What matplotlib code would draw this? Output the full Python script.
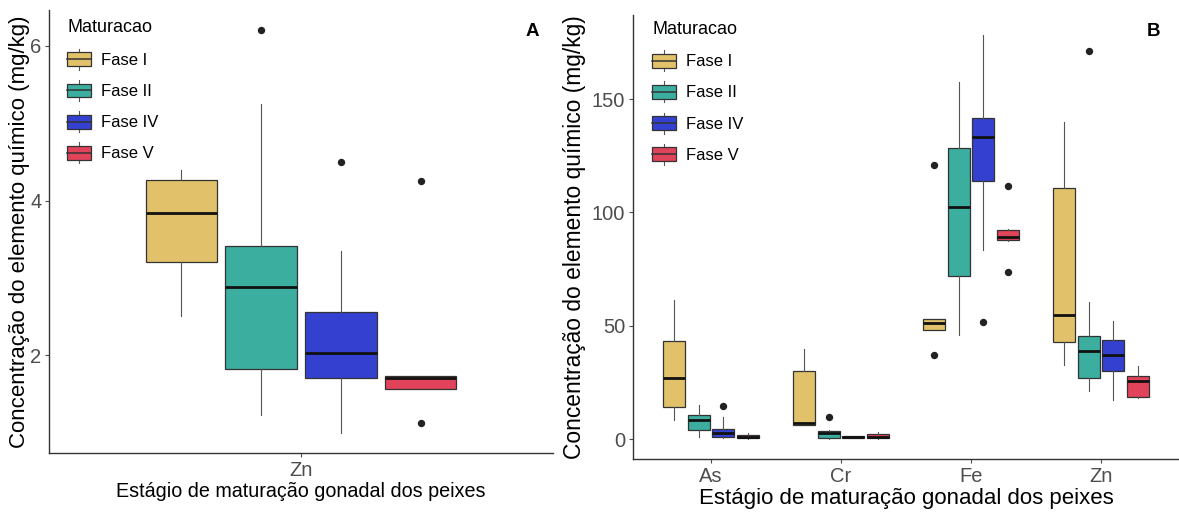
import matplotlib
matplotlib.use("Agg")
import matplotlib.pyplot as plt
import numpy as np
from matplotlib.patches import Patch, Rectangle
from matplotlib.lines import Line2D
from matplotlib.legend_handler import HandlerBase

plt.rcParams['font.family'] = ['Liberation Sans', 'DejaVu Sans']

fases = ["Fase I", "Fase II", "Fase IV", "Fase V"]
cores = ["#E1C16A", "#3BAE9F", "#3441D0", "#E1435A"]

# painel A: Zn, uma caixa por fase
zn_min = [2.51, 1.23, 1.00, 1.57]
zn_q1 = [3.20, 1.82, 1.71, 1.57]
zn_med = [3.84, 2.88, 2.03, 1.71]
zn_q3 = [4.26, 3.41, 2.56, 1.74]
zn_max = [4.40, 5.24, 3.35, 1.74]
zn_out = [[], [6.20], [4.50], [4.25, 1.13]]

# painel B: elementos x fase
elementos = ["As", "Cr", "Fe", "Zn"]
el_min = {
    "Fase I": [8.2, 6.3, 47.9, 32.8],
    "Fase II": [1.1, 0.2, 45.7, 21.3],
    "Fase IV": [0.5, 0.3, 83.5, 17.2],
    "Fase V": [0.2, 0.1, 87.5, 18.1],
}
el_q1 = {
    "Fase I": [14.3, 6.3, 47.9, 42.9],
    "Fase II": [4.0, 0.5, 72.1, 26.8],
    "Fase IV": [0.8, 0.5, 113.8, 29.9],
    "Fase V": [0.5, 0.5, 87.8, 18.4],
}
el_med = {
    "Fase I": [26.8, 7.0, 51.1, 54.7],
    "Fase II": [8.2, 2.7, 102.4, 38.7],
    "Fase IV": [2.7, 0.9, 133.2, 37.2],
    "Fase V": [1.0, 1.1, 89.3, 25.7],
}
el_q3 = {
    "Fase I": [43.1, 29.9, 53.0, 110.6],
    "Fase II": [10.4, 3.7, 128.2, 45.3],
    "Fase IV": [4.5, 1.3, 141.5, 43.8],
    "Fase V": [2.0, 2.3, 92.2, 27.9],
}
el_max = {
    "Fase I": [61.5, 39.7, 53.0, 140.1],
    "Fase II": [15.1, 4.2, 157.6, 60.3],
    "Fase IV": [9.6, 1.5, 178.2, 52.2],
    "Fase V": [2.6, 3.0, 92.5, 32.4],
}
el_out = {
    "Fase I": [[], [], [121.0, 37.1], []],
    "Fase II": [[], [9.6], [], [171.0]],
    "Fase IV": [[14.8], [], [51.8], []],
    "Fase V": [[], [], [111.5, 73.9], []],
}

LARG = 0.17
PASSO = 0.19
TICK_COR = "#4D4D4D"


class BoxKey(HandlerBase):
    # chave da legenda no estilo do ggplot: caixa, mediana e bigodes
    def create_artists(self, legend, orig_handle, xdescent, ydescent,
                       width, height, fontsize, trans):
        bh = height * 0.66
        y0 = -ydescent + (height - bh) / 2
        x0 = -xdescent
        cx = x0 + width / 2
        rect = Rectangle((x0, y0), width, bh, facecolor=orig_handle.get_facecolor(),
                         edgecolor="#333333", lw=0.9, transform=trans)
        mid = y0 + bh / 2
        med = Line2D([x0, x0 + width], [mid, mid], color="#333333", lw=1.1, transform=trans)
        w1 = Line2D([cx, cx], [-ydescent, y0], color="#555555", lw=0.8, transform=trans)
        w2 = Line2D([cx, cx], [y0 + bh, -ydescent + height], color="#555555", lw=0.8, transform=trans)
        return [w1, w2, rect, med]


def caixas(ax, pos, mins, q1s, meds, q3s, maxs, outs, cor):
    stats = []
    for i in range(len(pos)):
        stats.append({"whislo": mins[i], "q1": q1s[i], "med": meds[i],
                      "q3": q3s[i], "whishi": maxs[i], "fliers": outs[i]})
    ax.bxp(stats, positions=pos, widths=LARG, patch_artist=True, showcaps=False,
           boxprops=dict(facecolor=cor, edgecolor="#333333", linewidth=0.9),
           medianprops=dict(color="#111111", linewidth=2.0, solid_capstyle="butt"),
           whiskerprops=dict(color="#555555", linewidth=0.8),
           flierprops=dict(marker="o", markersize=4.3, markerfacecolor="#222222",
                           markeredgecolor="#222222"),
           manage_ticks=False)


def estilo(ax, ncat, valores, tam_titulo, tam_y, lab_x, lab_y):
    lo, hi = min(valores), max(valores)
    pad = (hi - lo) * 0.05
    ax.set_ylim(lo - pad, hi + pad)
    ax.set_xlim(0.4, ncat + 0.6)
    for s in ["top", "right"]:
        ax.spines[s].set_visible(False)
    for s in ["left", "bottom"]:
        ax.spines[s].set_color("#333333")
        ax.spines[s].set_linewidth(1.0)
    ax.tick_params(axis="both", colors=TICK_COR, labelsize=14.5, length=3, width=0.8, pad=2.5)
    ax.set_xlabel("Estágio de maturação gonadal dos peixes", fontsize=tam_titulo)
    ax.set_ylabel("Concentração do elemento químico (mg/kg)", fontsize=tam_y)
    ax.xaxis.set_label_coords(0.5, lab_x)
    ax.yaxis.set_label_coords(lab_y, 0.5)


def legenda(ax, x, y):
    handles = [Patch(facecolor=c) for c in cores]
    leg = ax.legend(handles, fases, handler_map={Patch: BoxKey()}, title="Maturacao",
                    loc="upper left", bbox_to_anchor=(x, y), frameon=False,
                    borderpad=0, borderaxespad=0, handlelength=1.45, handleheight=1.55,
                    labelspacing=0.62, handletextpad=0.6, alignment="left",
                    prop={"size": 12})
    leg.get_title().set_fontsize(13)
    leg._legend_box.sep = 9


fig = plt.figure(figsize=(11.79, 5.13), dpi=100)
ax1 = fig.add_axes([49 / 1179, 60 / 513, 504 / 1179, 443 / 513])
ax2 = fig.add_axes([633 / 1179, 54 / 513, 546 / 1179, 444 / 513])

# painel A
for k, f in enumerate(fases):
    p = [1 + (k - 1.5) * PASSO]
    caixas(ax1, p, [zn_min[k]], [zn_q1[k]], [zn_med[k]], [zn_q3[k]], [zn_max[k]],
           [zn_out[k]], cores[k])
todos_a = zn_min + zn_max + [v for o in zn_out for v in o]
estilo(ax1, 1, todos_a, 14.2, 16.0, -0.065, -0.038)
ax1.set_xticks([1])
ax1.set_xticklabels(["Zn"])
ax1.set_yticks([2, 4, 6])
legenda(ax1, 0.036, 0.979)

# painel B
x = np.arange(1, len(elementos) + 1)
todos_b = []
for k, f in enumerate(fases):
    p = x + (k - 1.5) * PASSO
    caixas(ax2, p, el_min[f], el_q1[f], el_med[f], el_q3[f], el_max[f], el_out[f], cores[k])
    todos_b += el_min[f] + el_max[f] + [v for o in el_out[f] for v in o]
estilo(ax2, len(elementos), todos_b, 16.0, 16.4, -0.065, -0.086)
ax2.set_xticks(x)
ax2.set_xticklabels(elementos)
ax2.set_yticks([0, 50, 100, 150])
legenda(ax2, 0.035, 0.987)

fig.text(532 / 1179, 1 - 32 / 513, "A", fontsize=13.5, fontweight="bold",
         ha="center", va="center")
fig.text(1153 / 1179, 1 - 32 / 513, "B", fontsize=13.5, fontweight="bold",
         ha="center", va="center")

fig.savefig("out.png", dpi=100)
